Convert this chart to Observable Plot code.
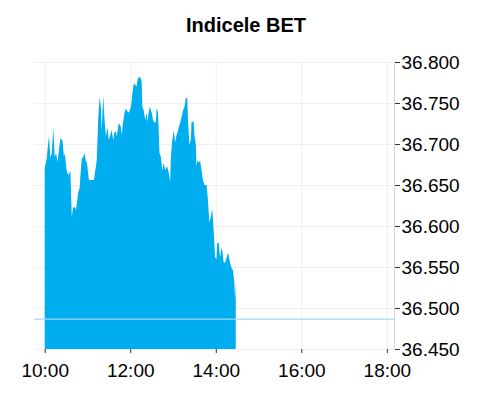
<!DOCTYPE html>
<html>
<head>
<meta charset="utf-8">
<script src="https://cdn.jsdelivr.net/npm/d3@7"></script>
<script src="https://cdn.jsdelivr.net/npm/@observablehq/plot@0.6"></script>
<style>
  html, body { margin: 0; padding: 0; background: #fff; }
  body { width: 492px; height: 400px; overflow: hidden; font-family: "Liberation Sans", Arial, sans-serif; }
  #title { height: 25px; padding-top: 15px; line-height: 20px; font-size: 20px; font-weight: bold; text-align: center; color: #000; }
</style>
</head>
<body>
<div id="title">Indicele BET</div>
<div id="chart"></div>
<script>
const times = ["10:00","10:01","10:03","10:04","10:06","10:08","10:10","10:12","10:14","10:16","10:18","10:22","10:25","10:27","10:28","10:31","10:33","10:36","10:38","10:40","10:42","10:44","10:47","10:49","10:50","10:52","10:54","10:56","10:58","10:59","11:02","11:06","11:09","11:11","11:13","11:15","11:17","11:19","11:20","11:22","11:24","11:26","11:28","11:30","11:32","11:34","11:36","11:38","11:40","11:41","11:44","11:47","11:48","11:50","11:52","11:54","11:55","11:58","12:01","12:03","12:05","12:09","12:10","12:12","12:15","12:16","12:17","12:19","12:21","12:23","12:24","12:27","12:30","12:32","12:34","12:36","12:37","12:39","12:41","12:43","12:45","12:47","12:49","12:51","12:52","12:54","12:56","12:57","12:59","13:01","13:03","13:05","13:06","13:08","13:11","13:14","13:16","13:18","13:20","13:21","13:23","13:25","13:26","13:29","13:30","13:32","13:33","13:34","13:36","13:38","13:40","13:42","13:44","13:47","13:49","13:51","13:53","13:55","13:57","13:59","14:01","14:02","14:04","14:06","14:08","14:09","14:11","14:13","14:15","14:17","14:18","14:20","14:22","14:24","14:26","14:27","14:28"];
const values = [36670,36674,36683,36693,36710,36683,36689,36720,36684,36689,36678,36707,36704,36684,36689,36667,36662,36667,36611,36623,36623,36620,36641,36646,36660,36682,36684,36689,36677,36680,36656,36656,36656,36668,36680,36729,36757,36744,36715,36759,36729,36709,36721,36705,36711,36717,36705,36715,36715,36709,36726,36720,36711,36727,36738,36744,36741,36738,36745,36762,36774,36770,36778,36782,36780,36776,36745,36741,36729,36738,36727,36745,36739,36729,36726,36727,36744,36738,36689,36684,36668,36677,36668,36672,36672,36665,36654,36684,36705,36717,36702,36711,36713,36720,36729,36741,36745,36756,36756,36729,36699,36705,36727,36727,36711,36699,36672,36680,36677,36680,36668,36656,36650,36650,36632,36604,36611,36621,36595,36562,36559,36579,36580,36562,36573,36571,36556,36555,36561,36567,36565,36555,36549,36546,36532,36510,36532];
const previousClose = 36487;
const xTickLabels = ["10:00","12:00","14:00","16:00","18:00"];
const yTicks = [36450,36500,36550,36600,36650,36700,36750,36800];
const xDomainLabels = ["09:45","18:10"];

const toDate = s => { const [h, m] = s.split(":").map(Number); return new Date(Date.UTC(2024, 0, 1, h, m)); };
const data = times.map((t, i) => ({t: toDate(t), v: values[i]}));
const xDomain = xDomainLabels.map(toDate);
const xTicks = xTickLabels.map(toDate);
const yMin = yTicks[0], yMax = yTicks[yTicks.length - 1];
const roLocale = d3.formatLocale({decimal: ",", thousands: ".", grouping: [3], currency: ["", " lei"]});
const yFmt = roLocale.format(",d");
const xFmt = d3.utcFormat("%H:%M");

const chart = Plot.plot({
  width: 492,
  height: 360,
  marginTop: 22,
  marginBottom: 51,
  marginLeft: 34,
  marginRight: 98,
  style: {fontFamily: "'Liberation Sans', Arial, sans-serif", fontSize: "19px", color: "#000", background: "#fff"},
  x: {type: "utc", domain: xDomain},
  y: {domain: [yMin, yMax]},
  marks: [
    Plot.gridY(yTicks, {stroke: "#f0f0f0", strokeOpacity: 1}),
    Plot.gridX(xTicks, {stroke: "#f0f0f0", strokeOpacity: 1}),
    Plot.areaY(data, {x: "t", y1: d => yMin, y2: "v", fill: "#00adef", curve: "linear"}),
    Plot.ruleY([previousClose], {stroke: "#a3daf5", strokeWidth: 1.2}),
    Plot.ruleX([xDomain[1]], {stroke: "#ccd6eb"}),
    Plot.axisY(yTicks, {anchor: "right", tickSize: 5, tickPadding: 2, tickFormat: yFmt, stroke: "#333", fill: "#000", label: null, fontSize: 19}),
    Plot.axisX(xTicks, {anchor: "bottom", tickSize: 4, tickPadding: 10, tickFormat: xFmt, stroke: "#333", fill: "#000", label: null, fontSize: 19})
  ]
});
document.getElementById("chart").appendChild(chart);
</script>
</body>
</html>
